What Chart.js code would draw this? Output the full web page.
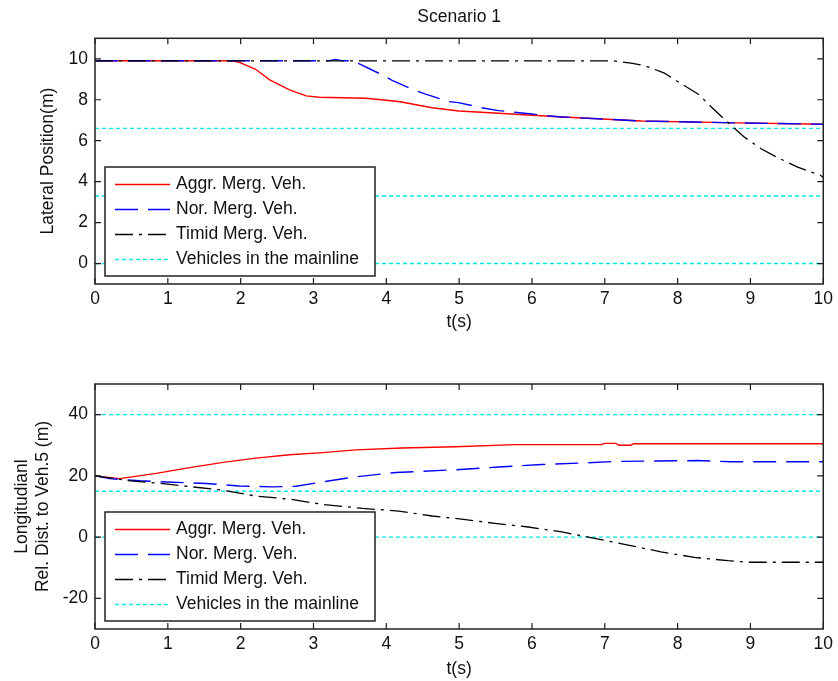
<!DOCTYPE html>
<html>
<head>
<meta charset="utf-8">
<script src="https://cdn.jsdelivr.net/npm/chart.js@4/dist/chart.umd.min.js"></script>
<style>
html,body{margin:0;padding:0;background:#fff;overflow:hidden;width:838px;height:681px}
#c1{position:absolute;left:0;top:0;width:838px;height:340px}
#c2{position:absolute;left:0;top:340px;width:838px;height:341px}
</style>
</head>
<body>
<canvas id="c1" width="838" height="340"></canvas>
<canvas id="c2" width="838" height="341"></canvas>
<script>
// ---- tick labels ----
const xTicks = [0,1,2,3,4,5,6,7,8,9,10];
const topYTicks = [0,2,4,6,8,10];
const botYTicks = [-20,0,20,40];
const seriesLabels = ['Aggr. Merg. Veh.','Nor. Merg. Veh.','Timid Merg. Veh.','Vehicles in the mainline'];

// ---- top plot: lateral position ----
const aggrTopT = [0,1.9,2.0,2.2,2.4,2.67,2.9,3.08,3.72,4.17,4.63,5.0,5.54,6.36,7.5,8.64,10];
const aggrTopY = [9.9,9.9,9.8,9.5,8.97,8.48,8.19,8.12,8.07,7.91,7.61,7.45,7.34,7.17,6.96,6.88,6.8];
const norTopT = [0,3.2,3.3,3.4,3.55,3.63,3.94,4.08,4.4,4.54,4.86,4.99,5.31,5.54,6.0,6.36,7.5,8.64,10];
const norTopY = [9.9,9.9,9.97,9.9,9.9,9.75,9.22,8.94,8.45,8.27,7.91,7.86,7.61,7.47,7.3,7.17,6.96,6.88,6.8];
const timidTopT = [0,7.11,7.36,7.55,7.82,8.0,8.28,8.46,8.73,8.91,9.14,9.37,9.64,9.96,10];
const timidTopY = [9.9,9.9,9.79,9.66,9.3,8.89,8.28,7.66,6.76,6.19,5.62,5.18,4.72,4.31,4.2];
const topMainline = [6.6,3.3,0];

// ---- bottom plot: longitudinal relative distance ----
const aggrBotT = [0,0.34,0.84,1.3,1.76,2.21,2.67,3.12,3.58,4.22,4.95,5.77,6.95,7.0,7.15,7.2,7.35,7.4,10];
const aggrBotY = [20,19.1,20.8,22.7,24.4,25.8,26.9,27.6,28.5,29.1,29.5,30.2,30.2,30.6,30.6,30.0,30.0,30.5,30.5];
const norBotT = [0,0.2,0.62,0.98,1.53,1.98,2.44,2.76,3.12,3.58,4.13,4.95,5.54,6.13,6.68,7.14,8.28,8.73,10];
const norBotY = [20,19.1,18.4,18.0,17.5,16.7,16.4,16.6,18.0,19.7,21.1,22.0,22.9,23.7,24.2,24.7,25.0,24.6,24.6];
const timidBotT = [0,0.48,0.93,1.3,1.76,2.21,2.67,3.12,3.67,4.17,4.63,4.95,5.49,5.95,6.41,6.86,7.32,7.77,8.23,8.69,8.96,10];
const timidBotY = [20,18.4,17.5,16.5,15.3,13.4,12.4,10.7,9.4,8.5,6.9,6.1,4.5,3.3,1.7,-0.4,-2.6,-4.8,-6.6,-7.7,-8.2,-8.2];
const botMainline = [40,15,0];

const FONT = "'Liberation Sans', Arial, Helvetica, sans-serif";
const FS = 17.5;
Chart.defaults.font.family = FONT;
Chart.defaults.font.size = FS;
Chart.defaults.color = '#111';

const pts = (t, y) => t.map((x, i) => ({x, y: y[i]}));
const hLines = (levels, x0, x1) => levels.flatMap(v => [{x:x0,y:v},{x:x1,y:v},{x:x1,y:null}]);

function datasets(aT, aY, nT, nY, tT, tY, mains) {
  return [
    {label: seriesLabels[0], data: pts(aT, aY), borderColor: '#ff0000', borderWidth: 1.4, borderDash: [], order: 3},
    {label: seriesLabels[1], data: pts(nT, nY), borderColor: '#0000ff', borderWidth: 1.4, borderDash: [23,10], order: 2},
    {label: seriesLabels[2], data: pts(tT, tY), borderColor: '#000000', borderWidth: 1.3, borderDash: [18,6,3,6], order: 1},
    {label: seriesLabels[3], data: hLines(mains, xTicks[0], xTicks[xTicks.length-1]), borderColor: '#00e8e8', borderWidth: 1.4, borderDash: [4,3], order: 4, spanGaps: false}
  ];
}

const framePlugin = {
  id: 'frame',
  afterDraw(chart, args, opts) {
    const {ctx, chartArea: a, scales} = chart;
    ctx.save();
    // inward tick marks on all four sides
    ctx.strokeStyle = '#1a1a1a';
    ctx.lineWidth = 1.2;
    const L = 6;
    ctx.beginPath();
    scales.x.ticks.forEach(t => {
      const p = scales.x.getPixelForValue(t.value);
      ctx.moveTo(p, a.bottom); ctx.lineTo(p, a.bottom - L);
      ctx.moveTo(p, a.top); ctx.lineTo(p, a.top + L);
    });
    scales.y.ticks.forEach(t => {
      const p = scales.y.getPixelForValue(t.value);
      ctx.moveTo(a.left, p); ctx.lineTo(a.left + L, p);
      ctx.moveTo(a.right, p); ctx.lineTo(a.right - L, p);
    });
    ctx.stroke();
    // box
    ctx.lineWidth = 1.5;
    ctx.strokeStyle = '#222';
    ctx.strokeRect(a.left, a.top, a.right - a.left, a.bottom - a.top);
    // inset legend
    const bw = 270, bh = 109;
    const bx = a.left + 10, by = a.bottom - 8 - bh;
    ctx.fillStyle = '#fff';
    ctx.fillRect(bx, by, bw, bh);
    ctx.strokeRect(bx, by, bw, bh);
    ctx.font = FS + 'px ' + FONT;
    ctx.textBaseline = 'middle';
    ctx.textAlign = 'left';
    chart.data.datasets.forEach((ds, i) => {
      const cy = by + 17.5 + i * 25;
      ctx.save();
      ctx.strokeStyle = ds.borderColor;
      ctx.lineWidth = ds.borderWidth;
      ctx.setLineDash(ds.borderDash || []);
      ctx.beginPath();
      ctx.moveTo(bx + 10, cy);
      ctx.lineTo(bx + 65, cy);
      ctx.stroke();
      ctx.restore();
      ctx.fillStyle = '#111';
      ctx.fillText(ds.label, bx + 71, cy);
    });
    ctx.restore();
  }
};

function makeChart(id, cfg) {
  return new Chart(document.getElementById(id), {
    type: 'line',
    data: {datasets: cfg.datasets},
    plugins: [framePlugin],
    options: {
      responsive: false,
      animation: false,
      events: [],
      layout: {padding: {top: cfg.padTop, right: 12, bottom: 0, left: 0}},
      elements: {point: {radius: 0}, line: {tension: 0}},
      plugins: {
        legend: {display: false},
        tooltip: {enabled: false},
        title: cfg.title ? {
          display: true, text: cfg.title, fullSize: false, color: '#111',
          font: {size: FS, weight: 'normal', family: FONT, lineHeight: 1.2},
          padding: {top: 7, bottom: 10.3}
        } : {display: false}
      },
      scales: {
        x: {
          type: 'linear', min: 0, max: 10,
          afterBuildTicks: s => { s.ticks = xTicks.map(v => ({value: v})); },
          afterFit: s => { s.height = cfg.xHeight; },
          grid: {display: false, drawTicks: false},
          border: {display: false},
          ticks: {padding: 5, maxRotation: 0, autoSkip: false, color: '#111'},
          title: {display: true, text: 't(s)', color: '#111', font: {size: FS, lineHeight: 1.2}, padding: {top: 0, bottom: cfg.xTitlePad}}
        },
        y: {
          type: 'linear', min: cfg.yMin, max: cfg.yMax,
          afterBuildTicks: s => { s.ticks = cfg.yTicks.map(v => ({value: v})); },
          afterFit: s => { s.width = 95; },
          grid: {display: false, drawTicks: false},
          border: {display: false},
          ticks: {padding: 7, autoSkip: false, color: '#111'},
          title: {display: true, text: cfg.yTitle, color: '#111', font: {size: FS, lineHeight: 1.2}, padding: {top: cfg.yTitlePad, bottom: 0}}
        }
      }
    }
  });
}

makeChart('c1', {
  datasets: datasets(aggrTopT, aggrTopY, norTopT, norTopY, timidTopT, timidTopY, topMainline),
  title: 'Scenario 1',
  padTop: 0,
  xHeight: 56,
  xTitlePad: 7,
  yMin: -1, yMax: 11, yTicks: topYTicks,
  yTitle: 'Lateral Position(m)',
  yTitlePad: 37.5
});

makeChart('c2', {
  datasets: datasets(aggrBotT, aggrBotY, norBotT, norBotY, timidBotT, timidBotY, botMainline),
  title: null,
  padTop: 44,
  xHeight: 52,
  xTitlePad: 1.5,
  yMin: -30, yMax: 50, yTicks: botYTicks,
  yTitle: ['Longitudianl', 'Rel. Dist. to Veh.5 (m)'],
  yTitlePad: 11.2
});
</script>
</body>
</html>
